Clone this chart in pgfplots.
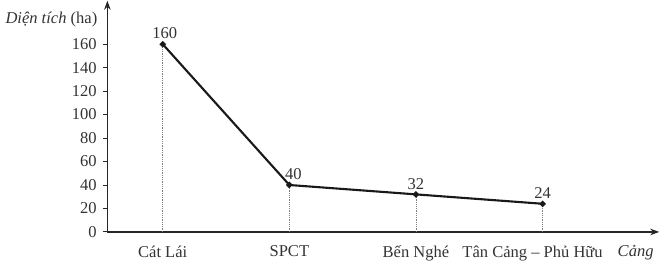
\documentclass[border=0pt]{standalone}
\usepackage{pgfplots}
\pgfplotsset{compat=1.18}
\usepackage{fontspec}
\setmainfont{Liberation Serif}
\usetikzlibrary{arrows.meta}
\begin{document}
\fontsize{16.5}{19}\selectfont
\begin{tikzpicture}
\begin{axis}[
  scale only axis,
  width=549bp, height=230bp,
  xmin=-0.437, xmax=3.921,
  ymin=0, ymax=197,
  axis lines=left,
  axis line style={line width=1.5pt, black!85, -{Stealth[length=9pt,width=6.5pt]}},
  xtick={0,1,2},
  xticklabels={Cát Lái, SPCT, Bến Nghé},
  extra x ticks={3},
  extra x tick labels={Tân Cảng -- Phủ Hữu},
  extra x tick style={xtick style={draw=none}, xticklabel style={xshift=-10bp}},
  xtick style={draw=none},
  ytick={0,20,...,160},
  ytick style={line width=0.9pt, black!85},
  tick align=outside,
  major tick length=4pt,
  /pgf/number format/assume math mode=true,
  tick label style={font=\fontsize{16.5}{19}\selectfont, text=black!80},
  xticklabel style={yshift=-4pt},
  yticklabel style={xshift=-1pt},
  clip=false,
  visualization depends on={value \thisrow{dx}\as\mydx},
  nodes near coords,
  nodes near coords style={font=\fontsize{16.5}{19}\selectfont, text=black!80, anchor=south, inner sep=1pt, yshift=3pt, xshift=\mydx pt},
]
\addplot[ycomb, densely dotted, gray, line width=0.8pt, no marks, nodes near coords=\empty] table {
x y dx
0 160 0
1 40 0
2 32 0
3 24 0
};
\addplot[line width=2.1pt, black!90, mark=*, mark size=1.9pt] table {
x y dx
0 160 2
1 40 4
2 32 0
3 24 0
};
\node[anchor=base east, font=\fontsize{16.5}{19}\selectfont, text=black!80] at (rel axis cs:-0.008,0.9) {\textit{Diện tích} (ha)};
\node[anchor=base east, font=\fontsize{16.5}{19}\selectfont, text=black!80] at (rel axis cs:1,-0.105) {\textit{Cảng}};
\end{axis}
\end{tikzpicture}
\end{document}
